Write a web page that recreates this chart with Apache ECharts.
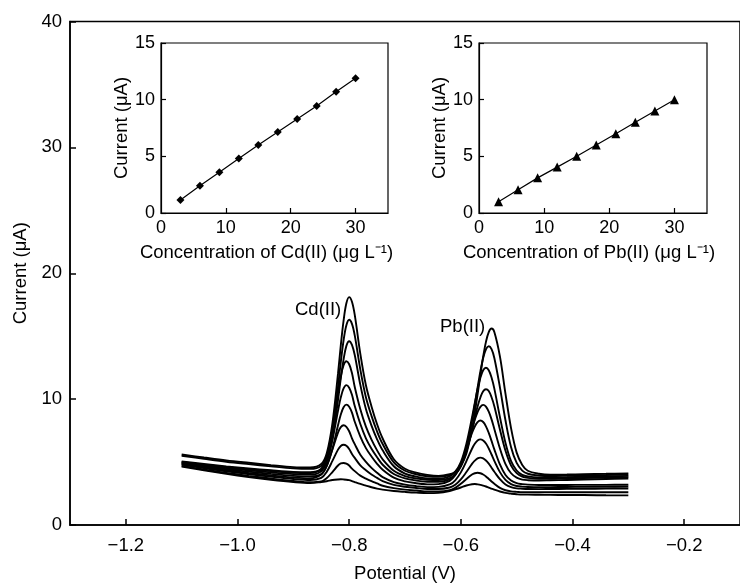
<!DOCTYPE html>
<html>
<head>
<meta charset="utf-8">
<script src="https://cdn.jsdelivr.net/npm/echarts@6/dist/echarts.min.js"></script>
<style>html,body{margin:0;padding:0;background:#fff}#c{width:740px;height:588px}</style>
</head>
<body>
<div id="c"></div>
<script>
// Potential (V) sample points shared by all voltammograms
const potentials = [-1.10,-1.06,-1.02,-0.98,-0.94,-0.90,-0.87,-0.85,-0.84,-0.83,-0.82,-0.815,-0.81,-0.805,-0.80,-0.795,-0.79,-0.78,-0.77,-0.76,-0.75,-0.74,-0.72,-0.70,-0.68,-0.66,-0.64,-0.62,-0.61,-0.60,-0.59,-0.58,-0.575,-0.57,-0.565,-0.56,-0.555,-0.55,-0.545,-0.54,-0.53,-0.52,-0.51,-0.50,-0.49,-0.48,-0.46,-0.44,-0.41,-0.38,-0.34,-0.30];

// Current (uA) of each voltammogram, highest concentration first
const curve30 = [5.60,5.36,5.13,4.94,4.76,4.60,4.57,4.84,5.72,8.07,12.02,14.27,16.24,17.61,18.10,17.73,16.69,13.60,11.10,9.42,8.00,6.87,5.22,4.47,4.16,3.98,3.90,4.03,4.21,4.69,5.68,7.62,8.92,10.38,11.90,13.38,14.55,15.33,15.61,15.34,13.40,10.42,7.68,5.75,4.77,4.31,4.07,3.99,4.01,4.04,4.07,4.10];
const curve27 = [5.50,5.26,5.03,4.84,4.66,4.50,4.46,4.69,5.45,7.51,10.98,12.94,14.67,15.87,16.30,15.98,15.06,12.35,10.15,8.67,7.43,6.43,4.97,4.31,4.03,3.87,3.82,3.96,4.23,4.86,6.11,8.25,9.56,10.91,12.21,13.26,13.96,14.20,13.97,13.27,10.94,8.30,6.18,4.93,4.32,4.07,3.93,3.89,3.91,3.94,3.97,4.00];
const curve24 = [5.05,4.85,4.66,4.50,4.35,4.22,4.19,4.40,5.07,6.87,9.92,11.65,13.16,14.23,14.60,14.31,13.51,11.13,9.21,7.90,6.81,5.93,4.67,4.09,3.84,3.70,3.68,3.86,4.23,4.99,6.46,8.54,9.69,10.80,11.69,12.29,12.49,12.30,11.71,10.83,8.58,6.52,5.07,4.33,3.98,3.86,3.78,3.77,3.80,3.83,3.86,3.90];
const curve21 = [5.00,4.79,4.60,4.43,4.28,4.15,4.13,4.48,5.50,7.61,10.49,11.79,12.69,13.01,12.77,12.08,10.96,9.19,7.81,6.78,5.93,5.22,4.31,3.89,3.69,3.60,3.57,3.72,4.02,4.64,5.84,7.55,8.49,9.41,10.13,10.63,10.79,10.64,10.15,9.44,7.59,5.90,4.72,4.12,3.84,3.74,3.67,3.67,3.70,3.73,3.76,3.80];
const curve18 = [4.95,4.73,4.52,4.34,4.18,4.04,4.00,4.27,5.08,6.77,9.08,10.14,10.85,11.11,10.91,10.35,9.45,8.02,6.89,6.06,5.38,4.79,4.05,3.70,3.53,3.44,3.43,3.63,4.00,4.75,6.01,7.58,8.36,8.97,9.39,9.54,9.40,9.00,8.39,7.63,6.08,4.84,4.11,3.76,3.61,3.56,3.53,3.55,3.58,3.61,3.66,3.70];
const curve15 = [4.90,4.66,4.43,4.24,4.06,3.90,3.85,4.04,4.69,6.06,7.92,8.78,9.35,9.56,9.40,8.93,8.20,7.03,6.11,5.44,4.86,4.39,3.76,3.47,3.32,3.23,3.25,3.51,3.95,4.79,6.00,7.31,7.83,8.17,8.30,8.18,7.84,7.32,6.68,6.01,4.81,3.97,3.53,3.32,3.25,3.21,3.18,3.18,3.18,3.19,3.19,3.20];
const curve12 = [4.85,4.58,4.34,4.13,3.94,3.77,3.70,4.01,4.74,6.00,7.34,7.77,7.92,7.80,7.45,6.89,6.42,5.58,5.02,4.54,4.15,3.80,3.41,3.21,3.09,3.01,3.03,3.22,3.55,4.18,5.08,6.06,6.45,6.71,6.80,6.71,6.47,6.08,5.60,5.10,4.20,3.58,3.25,3.10,3.05,3.02,3.00,3.01,3.02,3.03,3.04,3.05];
const curve9  = [4.80,4.52,4.26,4.04,3.84,3.66,3.57,3.75,4.24,5.09,5.99,6.28,6.37,6.29,6.04,5.65,5.33,4.74,4.35,4.01,3.74,3.48,3.19,3.04,2.94,2.86,2.86,2.98,3.19,3.62,4.21,4.86,5.11,5.29,5.35,5.29,5.12,4.87,4.55,4.23,3.64,3.22,3.01,2.91,2.88,2.86,2.85,2.86,2.87,2.88,2.89,2.90];
const curve6  = [4.70,4.41,4.13,3.90,3.69,3.50,3.40,3.46,3.73,4.21,4.73,4.89,4.93,4.87,4.72,4.48,4.28,3.92,3.69,3.48,3.30,3.12,2.93,2.81,2.74,2.66,2.66,2.76,2.95,3.27,3.66,4.01,4.11,4.15,4.11,4.01,3.86,3.66,3.46,3.27,2.95,2.76,2.67,2.63,2.60,2.60,2.60,2.60,2.60,2.60,2.60,2.60];
const curve3  = [4.65,4.34,4.06,3.81,3.59,3.41,3.33,3.41,3.48,3.57,3.62,3.63,3.62,3.60,3.56,3.49,3.41,3.26,3.13,3.00,2.89,2.81,2.70,2.63,2.57,2.53,2.55,2.69,2.83,2.98,3.14,3.24,3.26,3.23,3.19,3.13,3.06,2.97,2.89,2.81,2.66,2.55,2.49,2.44,2.41,2.41,2.40,2.39,2.38,2.38,2.36,2.35];

// Calibration insets
const concentrations = [3,6,9,12,15,18,21,24,27,30];
const cdCurrent = [1.15,2.4,3.6,4.8,6.0,7.15,8.3,9.45,10.7,11.9];
const pbCurrent = [1.0,2.05,3.1,4.05,5.0,6.0,7.0,8.0,9.0,10.0];

// Tick labels
const mainXTicks = [-1.2,-1.0,-0.8,-0.6,-0.4,-0.2];
const insetXTicks = [0,10,20,30];
const insetXMinorTicks = [10,20,30];

const curves = [curve30,curve27,curve24,curve21,curve18,curve15,curve12,curve9,curve6,curve3];
const FONT = 'Liberation Sans, Arial, sans-serif';
const FS = 18.5;
const minus = v => String(v).replace('-', '\u2212');

const chart = echarts.init(document.getElementById('c'), null, {renderer:'canvas'});
const axisLine = {show:true, onZero:false, lineStyle:{color:'#000', width:1.5}};
const insetAxisLine = {show:true, onZero:false, lineStyle:{color:'#000', width:1.2}};

const series = curves.map((arr, k) => ({
  type:'line', xAxisIndex:0, yAxisIndex:0, showSymbol:false, symbol:'none',
  smooth:0.35, animation:false, silent:true,
  lineStyle:{color:'#000', width:1.9},
  data: potentials.map((p,i)=>[p, arr[i]])
}));
series.push({
  type:'line', xAxisIndex:1, yAxisIndex:1, symbol:'diamond', symbolSize:8,
  itemStyle:{color:'#000'}, lineStyle:{color:'#000', width:1.2}, animation:false,
  data: concentrations.map((c,i)=>[c, cdCurrent[i]])
});
series.push({
  type:'line', xAxisIndex:2, yAxisIndex:2, symbol:'triangle', symbolSize:9,
  itemStyle:{color:'#000'}, lineStyle:{color:'#000', width:1.2}, animation:false,
  data: concentrations.map((c,i)=>[c, pbCurrent[i]])
});

function insetX(grid, name, shift){
  return {
    type:'value', gridIndex:grid, min:0, max:35,
    name:name, nameLocation:'middle', nameGap:30,
    nameTextStyle:{color:'#000', fontSize:FS, fontFamily:FONT, padding:[0, shift, 0, 0]},
    axisLine:insetAxisLine,
    axisTick:{show:true, inside:true, length:5, customValues:insetXMinorTicks, lineStyle:{color:'#000', width:1.2}},
    axisLabel:{color:'#000', fontSize:18, fontFamily:FONT, margin:6, customValues:insetXTicks},
    splitLine:{show:false}
  };
}
function insetY(grid){
  return {
    type:'value', gridIndex:grid, min:0, max:15, interval:5,
    name:'Current (\u03bcA)', nameLocation:'middle', nameGap:30,
    nameTextStyle:{color:'#000', fontSize:FS, fontFamily:FONT},
    axisLine:insetAxisLine,
    axisTick:{show:true, inside:true, length:5, lineStyle:{color:'#000', width:1.2}},
    axisLabel:{color:'#000', fontSize:18, fontFamily:FONT, margin:6},
    splitLine:{show:false}
  };
}

chart.setOption({
  animation:false,
  backgroundColor:'#fff',
  grid:[
    {left:70, top:21.5, right:-9, bottom:57, show:true, borderColor:'#000', borderWidth:1.5, containLabel:false},
    {left:161, top:43, width:227, height:170, show:true, borderColor:'#000', borderWidth:1.2, containLabel:false},
    {left:479, top:43, width:228, height:170, show:true, borderColor:'#000', borderWidth:1.2, containLabel:false}
  ],
  xAxis:[
    {
      type:'value', gridIndex:0, min:-1.3, max:-0.1,
      name:'Potential (V)', nameLocation:'middle', nameGap:39,
      nameTextStyle:{color:'#000', fontSize:FS, fontFamily:FONT},
      axisLine:axisLine,
      axisTick:{show:true, inside:true, length:6, customValues:mainXTicks, lineStyle:{color:'#000', width:1.5}},
      axisLabel:{color:'#000', fontSize:FS, fontFamily:FONT, margin:11, customValues:mainXTicks,
        formatter: v => minus(v.toFixed(1))},
      splitLine:{show:false}
    },
    insetX(1, 'Concentration of Cd(II) (\u03bcg L\u207B\u00B9)', 16),
    insetX(2, 'Concentration of Pb(II) (\u03bcg L\u207B\u00B9)', 8)
  ],
  yAxis:[
    {
      type:'value', gridIndex:0, min:0, max:40, interval:10,
      name:'Current (\u03bcA)', nameLocation:'middle', nameGap:38,
      nameTextStyle:{color:'#000', fontSize:FS, fontFamily:FONT},
      axisLine:axisLine,
      axisTick:{show:true, inside:true, length:6, lineStyle:{color:'#000', width:1.5}},
      axisLabel:{color:'#000', fontSize:FS, fontFamily:FONT, margin:8},
      splitLine:{show:false}
    },
    insetY(1),
    insetY(2)
  ],
  graphic:[
    {type:'text', left:295, top:300, style:{text:'Cd(II)', fill:'#000', font:FS + 'px ' + FONT}},
    {type:'text', left:440, top:317, style:{text:'Pb(II)', fill:'#000', font:FS + 'px ' + FONT}}
  ],
  series: series
});
</script>
</body>
</html>
